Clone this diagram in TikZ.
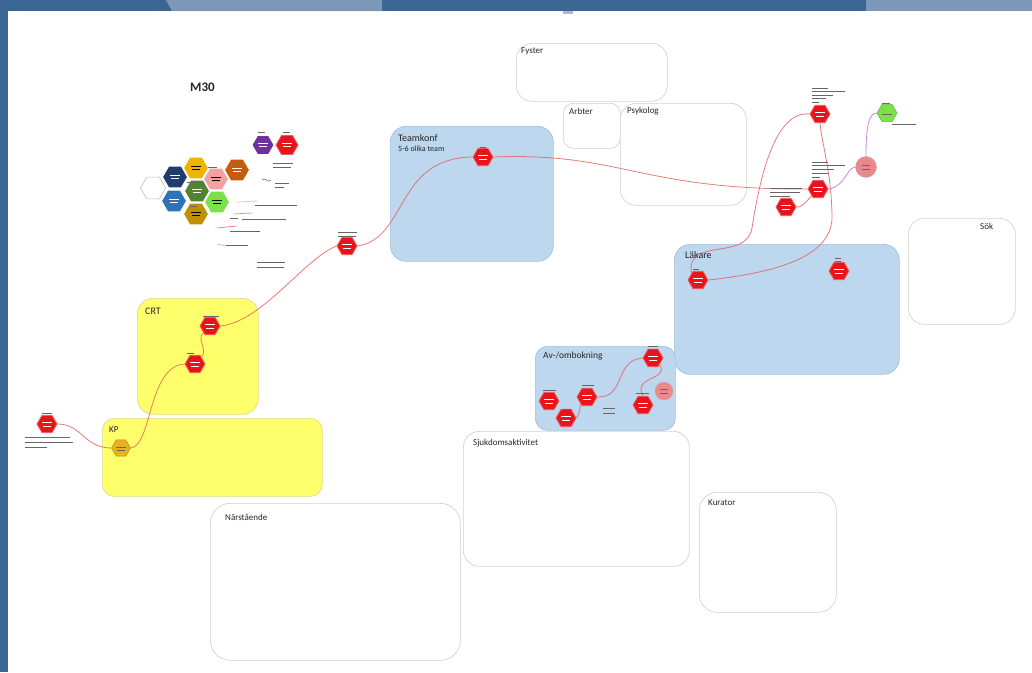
\documentclass[tikz,border=0pt]{standalone}
\usepackage{fontspec}
\setmainfont{Carlito}
\usetikzlibrary{shapes.geometric,backgrounds}

\definecolor{framedark}{HTML}{3B6693}
\definecolor{framelight}{HTML}{7D97B9}
\definecolor{panelblue}{HTML}{BDD7EE}
\definecolor{panelblueedge}{HTML}{A4C0DD}
\definecolor{panelyellow}{HTML}{FFFF6B}
\definecolor{panelyellowedge}{HTML}{DCDC8C}
\definecolor{hexred}{HTML}{E8141B}
\definecolor{hexrededge}{HTML}{F25A5A}
\definecolor{linkred}{HTML}{E45A5A}
\definecolor{linkviolet}{HTML}{C98AEA}
\definecolor{kpgold}{HTML}{E8B21E}
\definecolor{navy}{HTML}{1F3D6B}
\definecolor{midblue}{HTML}{2E74B5}
\definecolor{gold}{HTML}{F0B400}
\definecolor{darkgreen}{HTML}{548235}
\definecolor{olivegold}{HTML}{BF9000}
\definecolor{pinkish}{HTML}{F2A2A2}
\definecolor{lightgreen}{HTML}{7CE04A}
\definecolor{rust}{HTML}{C55A11}
\definecolor{violet}{HTML}{7030A0}
\definecolor{salmon}{HTML}{E88A8A}

\tikzset{
  panel/.style={draw=gray!35, line width=0.7pt, rounded corners=16pt, fill=white, anchor=north west, inner sep=0pt},
  bluepanel/.style={panel, draw=panelblueedge, fill=panelblue},
  yellowpanel/.style={panel, draw=panelyellowedge, fill=panelyellow},
  plabel/.style={anchor=west, inner sep=0pt, font=\fontsize{9}{10}\selectfont, text=black!85},
  hex/.style={regular polygon, regular polygon sides=6, inner sep=0pt, minimum size=#1},
  redhex/.style={hex=20pt, fill=hexred, draw=hexrededge, line width=0.8pt},
  honey/.style={hex=25pt, draw=white, line width=0.8pt},
  dotnode/.style={circle, inner sep=0pt, minimum size=#1, fill=salmon, draw=salmon!80!black!60, line width=0.4pt},
  link/.style={draw=linkred, line width=0.8pt, opacity=0.8},
  vlink/.style={draw=linkviolet, line width=0.8pt},
  txtbar/.style={draw=black!60, line width=0.9pt},
  whitebar/.style={draw=white, line width=1pt},
}

% short stroke standing for a line of fine print
\newcommand\tb[3]{\draw[txtbar] (#1,#2) -- ++(#3,0);}
% red step hexagon with its white inscription strokes
\newcommand\rhex[3]{%
  \node[redhex] (#1) at (#2,#3) {};
  \draw[whitebar] (#2-5,#3-1.5) -- (#2+5,#3-1.5);
  \draw[whitebar, line width=0.7pt] (#2-4,#3+2) -- (#2+4,#3+2);}

\begin{document}
\begin{tikzpicture}[x=1pt,y=-1pt]
\useasboundingbox (0,0) rectangle (1032,672);

% ---------- frame and panels ----------
\begin{scope}[on background layer]
\fill[white] (0,0) rectangle (1032,672);
\fill[framedark] (0,0) rectangle (8,672);
\fill[framedark] (0,0) rectangle (1032,11);
\fill[framelight] (166,0) -- (382,0) -- (382,11) -- (172,11) -- cycle;
\fill[framelight] (866,0) -- (1032,0) -- (1032,11) -- (866,11) -- cycle;
\fill[gray!55] (563,11) rectangle (573,14);

\node[panel, minimum width=151pt, minimum height=58pt] (fyster) at (516,43) {};
\node[panel, minimum width=57pt, minimum height=45pt, rounded corners=10pt] (arbter) at (563,103) {};
\node[panel, minimum width=126pt, minimum height=102pt] (psykolog) at (620,103) {};
\node[bluepanel, minimum width=163pt, minimum height=135pt] (teamkonf) at (390,126) {};
\node[panel, minimum width=107pt, minimum height=106pt] (sok) at (908,218) {};
\node[bluepanel, minimum width=225pt, minimum height=130pt] (lakare) at (674,244) {};
\node[yellowpanel, minimum width=121pt, minimum height=116pt] (crt) at (137,298) {};
\node[yellowpanel, minimum width=220pt, minimum height=78pt, rounded corners=12pt] (kp) at (102,418) {};
\node[bluepanel, minimum width=140pt, minimum height=84pt, rounded corners=12pt] (avom) at (535,346) {};
\node[panel, minimum width=226pt, minimum height=135pt] (sjuk) at (463,431) {};
\node[panel, minimum width=250pt, minimum height=157pt, rounded corners=20pt] (narst) at (210,503) {};
\node[panel, minimum width=137pt, minimum height=120pt, rounded corners=18pt] (kurator) at (699,492) {};
\end{scope}

% ---------- panel titles ----------
\node[plabel] (fysterl) at (521,51) {Fyster};
\node[plabel] (arbterl) at (569,111) {Arbter};
\node[plabel] (psykologl) at (627,111) {Psykolog};
\node[plabel, font=\fontsize{10}{11}\selectfont] (teamkonfl) at (398,138) {Teamkonf};
\node[plabel, font=\fontsize{8}{9}\selectfont] (teamkonfs) at (398,149) {5-6 olika team};
\node[plabel] (sokl) at (980,226) {Sök};
\node[plabel, font=\fontsize{10}{11}\selectfont] (lakarel) at (685,255) {Läkare};
\node[plabel, font=\fontsize{10}{11}\selectfont] (crtl) at (145,311) {CRT};
\node[plabel] (kpl) at (109,430) {KP};
\node[plabel, font=\fontsize{9.5}{10}\selectfont] (avoml) at (543,356) {Av-/ombokning};
\node[plabel] (sjukl) at (473,443) {Sjukdomsaktivitet};
\node[plabel] (narstl) at (225,517) {Närstående};
\node[plabel] (kuratorl) at (708,503) {Kurator};
\node[plabel, font=\bfseries\fontsize{13}{14}\selectfont] (m30) at (190,87) {M30};

% ---------- legend honeycomb ----------
\node[honey, fill=white, draw=gray!50, line width=0.6pt] (lgw) at (153,188) {};
\node[honey, fill=navy] (lgnavy) at (175,177) {};
\node[honey, fill=midblue] (lgblue) at (174,201) {};
\node[honey, fill=gold] (lggold) at (196,168) {};
\node[honey, fill=darkgreen] (lggreen) at (197,191) {};
\node[honey, fill=olivegold] (lgolive) at (196,214) {};
\node[honey, fill=pinkish] (lgpink) at (216,179) {};
\node[honey, fill=lightgreen] (lglgreen) at (217,202) {};
\node[honey, fill=rust] (lgrust) at (237,170) {};
\node[honey, fill=violet, hex=22pt] (lgviolet) at (263,145) {};
\node[redhex, hex=22pt] (lgred) at (287,145) {};
\foreach \cx/\cy/\c in {175/177/white,174/201/white,196/168/black,197/191/white,196/214/black,216/179/black,217/202/black,237/170/white,263/145/white,287/145/white}{
  \draw[draw=\c, line width=0.8pt] (\cx-5,\cy-1.5) -- (\cx+5,\cy-1.5);
  \draw[draw=\c, line width=0.6pt] (\cx-4,\cy+1.5) -- (\cx+4,\cy+1.5);
}
% legend captions
\tb{258}{132}{7}\tb{283}{132}{7}
\tb{208}{167}{9}\tb{187}{182}{8}\tb{190}{206}{7}\tb{230}{218}{8}
\tb{273}{163}{20}\tb{273}{167}{18}
\draw[black!60, line width=0.6pt] (262,180) .. controls (265,176) and (268,184) .. (271,180);
\tb{275}{183}{14}\tb{275}{187}{9}
\draw[draw=gold!70, line width=0.7pt] (237,202) -- (257,201);
\tb{255}{205}{42}
\draw[draw=darkgreen!60, line width=0.7pt] (233,214) -- (252,213);
\tb{242}{219}{44}
\draw[draw=magenta!60, line width=0.7pt] (217,228) -- (237,226);
\tb{230}{231}{30}
\draw[draw=gray!60, line width=0.6pt] (217,244) -- (226,246);
\tb{226}{245}{22}
\tb{257}{262}{28}\tb{257}{267}{27}

% ---------- step hexagons ----------
\rhex{h1}{47}{424}
\node[hex=19pt, fill=kpgold, draw=kpgold!80!black, line width=0.5pt] (kp1) at (121,448) {};
\draw[txtbar, line width=0.8pt] (116,447) -- (126,447);
\draw[txtbar, line width=0.6pt] (117,450) -- (125,450);
\rhex{crt1}{195}{364}
\rhex{crt2}{210}{326}
\rhex{n346}{347}{246}
\rhex{tk}{483}{157}
\rhex{r1}{820}{114}
\rhex{r2}{818}{189}
\rhex{r3}{786}{207}
\node[dotnode=21pt] (pc) at (866,167) {};
\draw[txtbar, line width=0.6pt] (862,165) -- (870,165);
\draw[txtbar, line width=0.6pt] (862,169) -- (870,169);
\node[hex=20pt, fill=lightgreen, draw=lightgreen!80!black, line width=0.5pt] (gh) at (887,113) {};
\draw[txtbar, line width=0.7pt] (882,114) -- (892,114);
\rhex{l1}{698}{280}
\rhex{l2}{839}{271}
\rhex{a1}{549}{401}
\rhex{a2}{566}{418}
\rhex{a3}{587}{397}
\rhex{a4}{653}{358}
\rhex{a5}{643}{405}
\node[dotnode=18pt] (pc2) at (664,391) {};
\draw[txtbar, line width=0.6pt] (660,389) -- (668,389);
\draw[txtbar, line width=0.6pt] (660,393) -- (668,393);

% ---------- fine print by the steps ----------
\tb{42}{413}{10}
\tb{25}{437}{45}\tb{25}{442}{48}\tb{25}{447}{22}
\tb{187}{353}{7}
\tb{203}{316}{16}
\tb{338}{232}{19}\tb{338}{236}{18}
\tb{480}{147}{6}
\tb{812}{88}{16}\tb{812}{91}{33}\tb{812}{95}{21}\tb{812}{98}{14}\tb{812}{102}{7}
\tb{812}{162}{16}\tb{812}{165}{33}\tb{812}{169}{22}\tb{812}{173}{16}
\draw[draw=midblue, line width=0.9pt] (812,177) -- ++(8,0);
\tb{770}{188}{32}\tb{770}{192}{30}\tb{770}{196}{20}
\tb{882}{103}{8}\tb{892}{124}{24}
\tb{693}{269}{6}\tb{835}{258}{6}\tb{835}{261}{6}
\tb{543}{390}{13}\tb{563}{409}{9}\tb{582}{385}{12}
\tb{603}{408}{12}\tb{603}{413}{12}
\tb{648}{346}{10}\tb{648}{349}{10}\tb{636}{393}{13}

% ---------- connectors ----------
\begin{scope}[on background layer]
\draw[link] (h1.east) .. controls (82,424) and (84,448) .. (kp1.west);
\draw[link] (kp1.east) .. controls (152,446) and (148,366) .. (crt1.west);
\draw[link] (crt1.north east) .. controls (208,348) and (196,340) .. (crt2.south west);
\draw[link] (crt2.east) .. controls (262,322) and (305,258) .. (n346.west);
\draw[link] (n346.east) .. controls (408,238) and (395,158) .. (tk.west);
\draw[link] (tk.east) .. controls (620,152) and (640,190) .. (r2.west);
\draw[link] (r2.south west) .. controls (805,204) and (800,208) .. (r3.east);
\draw[link] (r1.west) .. controls (772,110) and (758,190) .. (752,228)
  .. controls (746,262) and (686,236) .. (l1.north west);
\draw[link] (l1.east) .. controls (760,274) and (834,262) .. (832,215)
  .. controls (831,170) and (822,145) .. (r1.south);
\draw[vlink] (r2.east) .. controls (846,186) and (846,168) .. (pc.west);
\draw[vlink] (pc.north) .. controls (866,130) and (868,113) .. (gh.west);
\draw[link] (a3.east) .. controls (626,398) and (614,360) .. (a4.west);
\draw[link] (a4.south east) .. controls (670,380) and (632,376) .. (a5.north);
\draw[link] (a3.south west) .. controls (580,408) and (580,414) .. (a2.east);
\end{scope}
\end{tikzpicture}
\end{document}
